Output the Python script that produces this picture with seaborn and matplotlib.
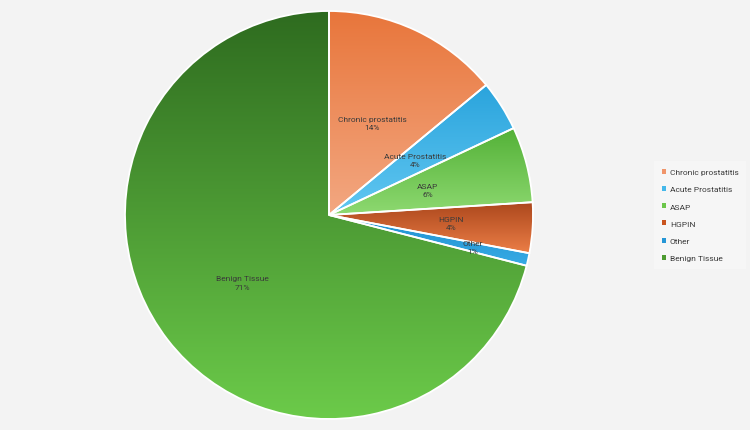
import numpy as np
import matplotlib
matplotlib.use("Agg")
import matplotlib.pyplot as plt
import seaborn as sns
from matplotlib.colors import LinearSegmentedColormap
from matplotlib.patches import Patch

categories = ["Chronic prostatitis", "Acute Prostatitis", "ASAP", "HGPIN", "Other", "Benign Tissue"]
values = [14, 4, 6, 4, 1, 71]
pct_labels = ["14%", "4%", "6%", "4%", "1%", "71%"]
top_colors = ["#E8753A", "#29A3DC", "#52B036", "#A8441A", "#1E8ECE", "#2E6B1F"]
bottom_colors = ["#F3A882", "#62C8F2", "#8FDA72", "#EE8048", "#38ACE6", "#6CCB4A"]
legend_colors = ["#F0956A", "#45B8EA", "#6CC64A", "#C9541E", "#2596D6", "#4C9A30"]
label_dist = [0.5, 0.5, 0.5, 0.6, 0.72, 0.54]

sns.set_theme(style="white")
plt.rcParams['font.family'] = ['Roboto', 'DejaVu Sans']

fig = plt.figure(figsize=(7.5, 4.31), dpi=100)
fig.patch.set_facecolor("#F3F3F3")
ax = fig.add_axes([125/750, 11/431, 408/750, 408/431])
ax.set_facecolor("none")

wedges, _ = ax.pie(values, startangle=90, counterclock=False, radius=1,
                   wedgeprops=dict(edgecolor="white", linewidth=1.3))

for w, c_top, c_bot in zip(wedges, top_colors, bottom_colors):
    w.set_facecolor("none")
    t1, t2 = np.deg2rad(w.theta1), np.deg2rad(w.theta2)
    ts = np.linspace(t1, t2, 200)
    ys = np.concatenate([np.sin(ts), [0.0]])
    xs = np.concatenate([np.cos(ts), [0.0]])
    ymin, ymax = ys.min(), ys.max()
    xmin, xmax = xs.min(), xs.max()
    cmap = LinearSegmentedColormap.from_list("g", [c_bot, c_top])
    grad = np.linspace(0, 1, 256).reshape(-1, 1)
    im = ax.imshow(grad, cmap=cmap, origin="lower", aspect="auto",
                   extent=[xmin - 0.01, xmax + 0.01, ymin - 0.01, ymax + 0.01],
                   zorder=0.5)
    im.set_clip_path(w)
    w.set_zorder(1)

for w, cat, pct, d in zip(wedges, categories, pct_labels, label_dist):
    th = np.deg2rad((w.theta1 + w.theta2) / 2)
    ax.text(d * np.cos(th), d * np.sin(th), f"{cat}\n{pct}", ha="center", va="center",
            fontsize=6.0, color="#3A3A3A", linespacing=1.45, zorder=3)

ax.set_xlim(-1.0, 1.0)
ax.set_ylim(-1.0, 1.0)
ax.set_aspect("equal")
ax.axis("off")

handles = [Patch(facecolor=c, edgecolor="none") for c in legend_colors]
leg = fig.legend(handles, categories, loc="center left", bbox_to_anchor=(650/750, 1 - 216/431),
                 fontsize=6.0, frameon=True, handlelength=0.55, handleheight=0.55,
                 handletextpad=0.45, labelspacing=1.3, borderpad=0.9, labelcolor="#3A3A3A")
leg.get_frame().set_facecolor("#F8F8F8")
leg.get_frame().set_edgecolor("none")
leg.get_frame().set_boxstyle("square", pad=0)

fig.savefig("out.png", dpi=100, facecolor=fig.get_facecolor())
